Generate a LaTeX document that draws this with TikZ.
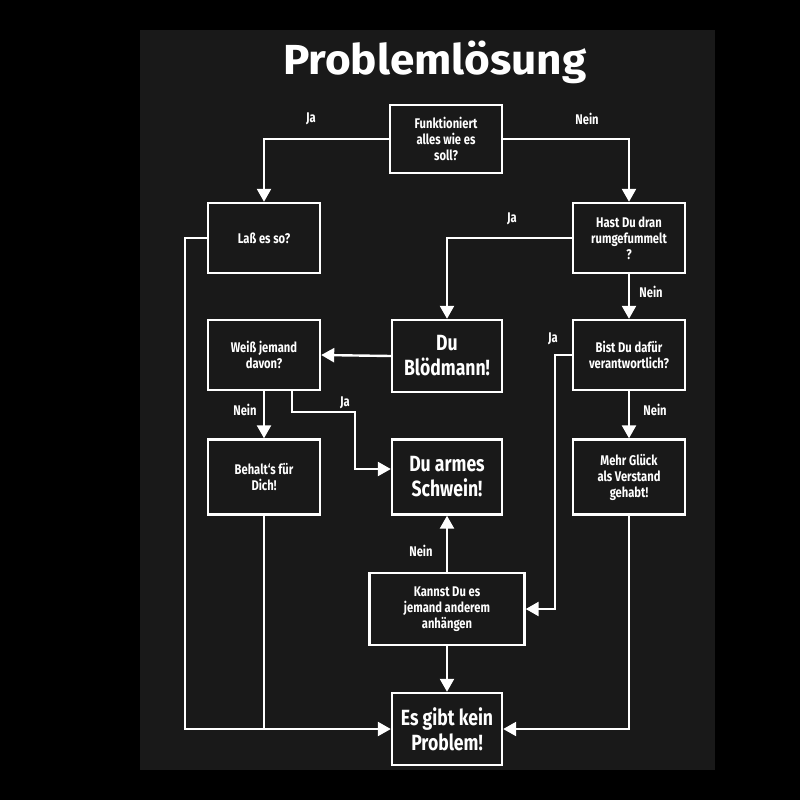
\documentclass[tikz,border=0pt]{standalone}
\usepackage{fontspec}
\setmainfont{Fira Sans}
\usepackage{tikz}
\usetikzlibrary{arrows.meta}
\begin{document}
\begin{tikzpicture}
      [
        x=1pt, y=-1pt,
        box/.style={draw=white, line width=2.4pt, text=white, align=center,
          inner sep=0pt, font=\fontsize{14}{16}\selectfont\bfseries\addfontfeature{FakeStretch=0.8}},
        big/.style={font=\fontsize{22}{25}\selectfont\bfseries\addfontfeature{FakeStretch=0.8}},
        lbl/.style={text=white, font=\fontsize{14}{16}\selectfont\bfseries\addfontfeature{FakeStretch=0.8}},
        flow/.style={draw=white, line width=2.4pt, -{Triangle[length=13pt,width=14pt]}},
        line/.style={draw=white, line width=2.4pt}
      ]
      % background
      \fill[black] (0,0) rectangle (800,800);
      \fill[black!90!white] (140,30) rectangle (715,770);
      \node[text=white, font=\fontsize{42}{46}\selectfont\bfseries\addfontfeature{FakeStretch=1.05}] (title) at (435,62) {Problemlösung};
      % boxes
      \node[box, minimum width=112pt, minimum height=68pt] (func) at (446,139) {Funktioniert\\alles wie es\\soll?};
      \node[box, minimum width=112pt, minimum height=70pt] (lass) at (264,238) {Laß es so?};
      \node[box, minimum width=112pt, minimum height=70pt] (hast) at (629,238) {Hast Du dran\\rumgefummelt\\?};
      \node[box, minimum width=112pt, minimum height=70pt] (weiss) at (264,355) {Weiß jemand\\davon?};
      \node[box, big, minimum width=110pt, minimum height=72pt] (bloed) at (447,356) {Du\\Blödmann!};
      \node[box, minimum width=112pt, minimum height=70pt] (bist) at (629,355) {Bist Du dafür\\verantwortlich?};
      \node[box, minimum width=112pt, minimum height=75pt] (behalt) at (264,477) {Behalt`s für\\Dich!};
      \node[box, big, minimum width=110pt, minimum height=75pt] (armes) at (447,477) {Du armes\\Schwein!};
      \node[box, minimum width=112pt, minimum height=75pt] (glueck) at (629,477) {Mehr Glück\\als Verstand\\gehabt!};
      \node[box, minimum width=155pt, minimum height=72pt] (kannst) at (447,609) {Kannst Du es\\jemand anderem\\anhängen};
      \node[box, big, minimum width=110pt, minimum height=72pt] (kein) at (447,729) {Es gibt kein\\Problem!};
      % connectors
      \draw[flow] (func.west) -| (lass.north);
      \draw[flow] (func.east) -| (hast.north);
      \draw[flow] (hast.west) -| (bloed.north);
      \draw[flow] (hast.south) -- (bist.north);
      \draw[flow] (bloed.west) -- (weiss.east);
      \draw[flow] (weiss.south) -- (behalt.north);
      \draw[flow] ([xshift=28pt]weiss.south) |- (355,412) |- ([yshift=8pt]armes.west);
      \draw[flow] (bist.south) -- (glueck.north);
      \draw[flow] (bist.west) -| (555,560) |- (kannst.east);
      \draw[flow] (kannst.north) -- (armes.south);
      \draw[flow] (kannst.south) -- (kein.north);
      \draw[flow] (lass.west) -| (185,560) |- (kein.west);
      \draw[line] (behalt.south) -- (264,729);
      \draw[flow] (glueck.south) |- (kein.east);
      % labels
      \node[lbl] (l1) at (311,119) {Ja};
      \node[lbl] (l2) at (587,119) {Nein};
      \node[lbl] (l3) at (512,219) {Ja};
      \node[lbl] (l4) at (651,292) {Nein};
      \node[lbl] (l5) at (553,339) {Ja};
      \node[lbl] (l6) at (245,410) {Nein};
      \node[lbl] (l7) at (345,403) {Ja};
      \node[lbl] (l8) at (655,410) {Nein};
      \node[lbl] (l9) at (421,551) {Nein};
\end{tikzpicture}
\end{document}
